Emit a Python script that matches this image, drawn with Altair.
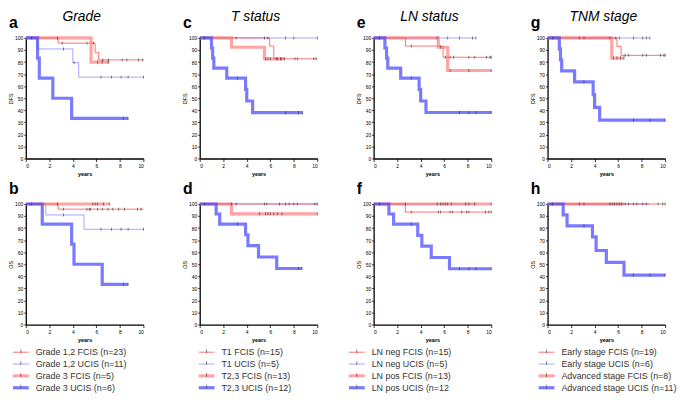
import altair as alt
import pandas as pd

FONT = "Liberation Sans"
W, H = 119, 122

# ---------------- data ----------------
# series keys: F1 = group-1 FCIS (thin red), U1 = group-1 UCIS (thin blue),
#              F2 = group-2 FCIS (thick red), U2 = group-2 UCIS (thick blue)
# *_t = step times (years), *_s = survival (%), *_c = censor times

# Panel a: Grade, DFS
a_F1_t = [0, 2.75, 5.9, 6.2, 10]
a_F1_s = [100, 95.7, 87.8, 81.8, 81.8]
a_F1_c = [0.5, 2.7, 3.1, 5.2, 5.75, 6.55, 7.05, 8.2, 8.6, 9.6, 9.95]
a_U1_t = [0, 1.0, 4.0, 4.5, 10]
a_U1_s = [100, 90.9, 79.5, 67.5, 67.5]
a_U1_c = [3.2, 4.1, 6.4, 7.3, 8.1, 8.7, 10]
a_F2_t = [0, 5.55, 7.1]
a_F2_s = [100, 80, 80]
a_F2_c = [6.1, 6.5, 7.0]
a_U2_t = [0, 1.0, 1.15, 2.3, 3.9, 8.7]
a_U2_s = [100, 83.3, 66.7, 50, 33.3, 33.3]
a_U2_c = [8.3, 8.7]

# Panel b: Grade, OS
b_F1_t = [0, 2.75, 10]
b_F1_s = [100, 95.7, 95.7]
b_F1_c = [0.5, 2.7, 3.2, 5.2, 5.4, 5.5, 6.1, 6.5, 7.0, 7.4, 7.9, 8.4, 9.5, 9.8]
b_U1_t = [0, 1.7, 4.95, 10]
b_U1_s = [100, 90.9, 79, 79]
b_U1_c = [3.2, 6.4, 7.3, 8.1, 8.7, 10]
b_F2_t = [0, 7.1]
b_F2_s = [100, 100]
b_F2_c = [5.7, 5.9, 6.1, 6.6, 7.1]
b_U2_t = [0, 1.4, 3.9, 4.1, 6.5, 8.7]
b_U2_s = [100, 83.3, 66.7, 50, 33.3, 33.3]
b_U2_c = [8.3, 8.7]

# Panel c: T status, DFS
c_F1_t = [0, 5.95, 6.3, 10]
c_F1_s = [100, 93.3, 82.7, 82.7]
c_F1_c = [6.6, 6.9, 7.2, 8.1, 8.3, 9.7, 9.9]
c_U1_t = [0, 10]
c_U1_s = [100, 100]
c_U1_c = [0.4, 3.1, 5.5, 5.8, 7.3, 8.0, 10]
c_F2_t = [0, 2.7, 5.5, 7.2]
c_F2_s = [100, 92.3, 82.7, 82.7]
c_F2_c = [5.6, 5.8, 6.0, 6.5, 6.9]
c_U2_t = [0, 1.0, 1.1, 1.2, 2.3, 3.9, 4.0, 4.5, 8.75]
c_U2_s = [100, 91.7, 83.3, 75, 66.7, 57.3, 47.7, 38, 38]
c_U2_c = [3.2, 7.3, 8.4, 8.75]

# Panel d: T status, OS
d_F1_t = [0, 10]
d_F1_s = [100, 100]
d_F1_c = [0.4, 2.7, 3.1, 5.5, 5.7, 6.8, 7.3, 7.6, 8.0, 8.3, 9.8, 10]
d_U1_t = [0, 10]
d_U1_s = [100, 100]
d_U1_c = []
d_F2_t = [0, 2.7, 10]
d_F2_s = [100, 91.8, 91.8]
d_F2_c = [5.1, 5.6, 5.8, 6.0, 6.3, 6.6, 7.0, 10]
d_U2_t = [0, 1.4, 1.7, 3.9, 4.1, 5.0, 6.55, 8.7]
d_U2_s = [100, 91.7, 83.3, 74.5, 65.5, 56, 46.5, 46.5]
d_U2_c = [3.2, 8.4, 8.7]

# Panel e: LN status, DFS
e_F1_t = [0, 2.7, 5.9, 10]
e_F1_s = [100, 93.3, 84, 84]
e_F1_c = [3.2, 6.1, 6.5, 6.8, 8.1, 8.6, 9.6, 9.9, 10]
e_U1_t = [0, 8.7]
e_U1_s = [100, 100]
e_U1_c = [0.5, 5.4, 6.3, 7.3, 8.4, 8.7]
e_F2_t = [0, 5.5, 6.3, 10]
e_F2_s = [100, 92.3, 73, 73]
e_F2_c = [5.7, 6.5, 8.1, 10]
e_U2_t = [0, 0.96, 1.1, 1.2, 2.3, 3.87, 4.0, 4.45, 10]
e_U2_s = [100, 91.7, 83.3, 75, 66.7, 57.3, 47.7, 38.2, 38.2]
e_U2_c = [3.2, 7.3, 8.1, 8.7, 10]

# Panel f: LN status, OS
f_F1_t = [0, 2.7, 10]
f_F1_s = [100, 93.3, 93.3]
f_F1_c = [3.2, 5.5, 5.7, 6.5, 6.7, 7.5, 7.9, 8.1, 9.5, 9.8, 10]
f_U1_t = [0, 8.7]
f_U1_s = [100, 100]
f_U1_c = []
f_F2_t = [0, 10]
f_F2_s = [100, 100]
f_F2_c = [0.5, 2.7, 5.4, 5.7, 5.9, 6.1, 6.3, 6.6, 7.8, 8.1, 8.6, 10]
f_U2_t = [0, 1.3, 1.7, 3.75, 4.1, 4.9, 6.45, 10]
f_U2_s = [100, 91.7, 83.3, 74, 65, 55.6, 46.3, 46.3]
f_U2_c = [3.2, 7.3, 8.1, 8.7, 10]

# Panel g: TNM stage, DFS
g_F1_t = [0, 5.9, 6.25, 10]
g_F1_s = [100, 93, 85.6, 85.6]
g_F1_c = [0.45, 2.7, 3.1, 5.3, 6.6, 6.9, 8.1, 8.4, 9.6, 9.9, 10]
g_U1_t = [0, 8.7]
g_U1_s = [100, 100]
g_U1_c = [5.8, 6.1, 7.3, 8.1, 8.4, 8.7]
g_F2_t = [0, 5.46, 6.5]
g_F2_s = [100, 83.3, 83.3]
g_F2_c = [5.6, 5.9, 6.2, 6.5]
g_U2_t = [0, 1.0, 1.1, 1.2, 2.3, 3.88, 4.0, 4.43, 10]
g_U2_s = [100, 90.9, 81.8, 72.7, 63.6, 53, 42.4, 31.8, 31.8]
g_U2_c = [3.1, 7.3, 8.7, 10]

# Panel h: TNM stage, OS
h_F1_t = [0, 10]
h_F1_s = [100, 100]
h_F1_c = [0.4, 2.7, 3.1, 5.3, 5.5, 5.7, 5.9, 6.1, 6.3, 6.6, 6.9, 7.3, 7.6, 8.1, 8.4, 9.4, 9.8, 10]
h_U1_t = [0, 8.7]
h_U1_s = [100, 100]
h_U1_c = []
h_F2_t = [0, 6.5]
h_F2_s = [100, 100]
h_F2_c = []
h_U2_t = [0, 1.33, 1.66, 3.82, 4.13, 5.0, 6.5, 10]
h_U2_s = [100, 90.9, 81.8, 72.7, 61.4, 51.5, 41, 41]
h_U2_c = [3.1, 7.3, 8.7, 10]

col_titles = ["Grade", "T status", "LN status", "TNM stage"]
legend_grade = ["Grade 1,2  FCIS (n=23)", "Grade 1,2 UCIS (n=11)", "Grade 3  FCIS (n=5)", "Grade 3 UCIS (n=6)"]
legend_t = ["T1 FCIS (n=15)", "T1 UCIS (n=5)", "T2,3 FCIS (n=13)", "T2,3 UCIS (n=12)"]
legend_ln = ["LN neg FCIS (n=15)", "LN neg UCIS (n=5)", "LN pos FCIS (n=13)", "LN pos UCIS (n=12"]
legend_tnm = ["Early stage FCIS (n=19)", "Early stage UCIS (n=6)", "Advanced stage FCIS (n=8)", "Advanced stage UCIS (n=11)"]
x_ticks = [0, 2, 4, 6, 8, 10]
y_ticks = [0, 10, 20, 30, 40, 50, 60, 70, 80, 90, 100]

# ---------------- styles ----------------
STYLE = {
    "F1": dict(color="#ff4d4d", width=1.0, opacity=0.8),
    "U1": dict(color="#8080ff", width=1.0, opacity=0.7),
    "F2": dict(color="#ff6666", width=3.2, opacity=0.6),
    "U2": dict(color="#4d4dff", width=3.2, opacity=0.75),
}
DRAW_ORDER = ["U1", "F1", "F2", "U2"]
LEGEND_ORDER = ["F1", "U1", "F2", "U2"]

G = globals()


def surv_at(t, s, x):
    v = s[0]
    for ti, si in zip(t, s):
        if ti <= x:
            v = si
    return v


xscale = alt.Scale(domain=[0, 10], nice=False)
yscale = alt.Scale(domain=[0, 100], nice=False)


def legend_layer(labels, x0):
    df = pd.DataFrame({
        "label": labels,
        "color": [STYLE[k]["color"] for k in LEGEND_ORDER],
        "w": [STYLE[k]["width"] for k in LEGEND_ORDER],
        "op": [STYLE[k]["opacity"] for k in LEGEND_ORDER],
    })
    y = alt.Y("label:N", sort=labels, axis=None,
              scale=alt.Scale(type="point", range=[H + 28, H + 64], padding=0))
    line = alt.Chart(df).mark_rule().encode(
        y=y, x=alt.value(x0), x2=alt.value(x0 + 16),
        color=alt.Color("color:N", scale=None),
        strokeWidth=alt.StrokeWidth("w:Q", scale=None),
        opacity=alt.Opacity("op:Q", scale=None))
    tick = alt.Chart(df).mark_tick(orient="vertical", size=4, thickness=0.8, color="#333",
                                   yOffset=-1).encode(y=y, x=alt.value(x0 + 8))
    text = alt.Chart(df).mark_text(align="left", baseline="middle", font=FONT, fontSize=9,
                                   color="#333").encode(y=y, x=alt.value(x0 + 23), text="label:N")
    return alt.layer(line, tick, text)


def km_panel(key, letter, ytitle, title=None, legend=None):
    xenc = alt.X("t:Q", scale=xscale,
                 axis=alt.Axis(values=x_ticks, title="years", format="d"))
    yenc = alt.Y("s:Q", scale=yscale,
                 axis=alt.Axis(values=y_ticks, title=ytitle, format="d"))
    layers = []
    cens = []
    for sid in DRAW_ORDER:
        t = G[f"{key}_{sid}_t"]
        s = G[f"{key}_{sid}_s"]
        c = G[f"{key}_{sid}_c"]
        st = STYLE[sid]
        df = pd.DataFrame({"t": t, "s": s})
        layers.append(
            alt.Chart(df).mark_line(interpolate="step-after", color=st["color"],
                                    strokeWidth=st["width"], opacity=st["opacity"])
            .encode(x=xenc, y=yenc))
        for ci in c:
            cens.append({"t": ci, "s": surv_at(t, s, ci)})
    cdf = pd.DataFrame(cens if cens else [{"t": 0, "s": 100}])
    layers.append(alt.Chart(cdf).mark_tick(orient="vertical", size=3, thickness=0.8,
                                           color="#222").encode(x=xenc, y=yenc))
    lab = [{"l": letter, "k": "letter"}]
    if title:
        lab.append({"l": title, "k": "title"})
    labdf = pd.DataFrame(lab)
    layers.append(alt.Chart(labdf).transform_filter(alt.datum.k == "letter").mark_text(
        font=FONT, fontSize=16, fontWeight="bold", align="left", baseline="alphabetic",
        color="black").encode(text="l:N", x=alt.value(-17), y=alt.value(-10)))
    if title:
        layers.append(alt.Chart(labdf).transform_filter(alt.datum.k == "title").mark_text(
            font=FONT, fontSize=14, fontStyle="italic", align="center", baseline="alphabetic",
            color="black").encode(text="l:N", x=alt.value(W / 2 - 3), y=alt.value(-17)))
    ch = alt.layer(*layers)
    if legend is not None:
        ch = alt.layer(ch, legend_layer(*legend)).resolve_scale(y="independent")
    return ch.properties(width=W, height=H)


specs = [("a", "b", legend_grade, -13), ("c", "d", legend_t, -1),
         ("e", "f", legend_ln, -25), ("g", "h", legend_tnm, -9)]
tops = [km_panel(k1, k1, "DFS", ttl) for (k1, _, _, _), ttl in zip(specs, col_titles)]
bots = [km_panel(k2, k2, "OS", legend=(leg, x0)) for (_, k2, leg, x0) in specs]

chart = alt.concat(*tops, *bots, columns=4, bounds="flush",
                   spacing={"row": 46, "column": 57}).properties(padding=0).configure_view(
    stroke=None).configure_axis(
    grid=False, domainColor="black", domainWidth=1.3, tickColor="black", tickWidth=0.8,
    tickSize=2, labelFont=FONT, labelFontSize=5, labelColor="black", labelPadding=1,
    titleFont=FONT, titleFontSize=5.5, titleFontWeight="normal", titleColor="black",
    titlePadding=1).configure_axisX(titleFontWeight="bold", titlePadding=3, labelPadding=2,
                                    tickSize=3)

chart.save("out.html", embed_options={"renderer": "svg", "actions": False})
